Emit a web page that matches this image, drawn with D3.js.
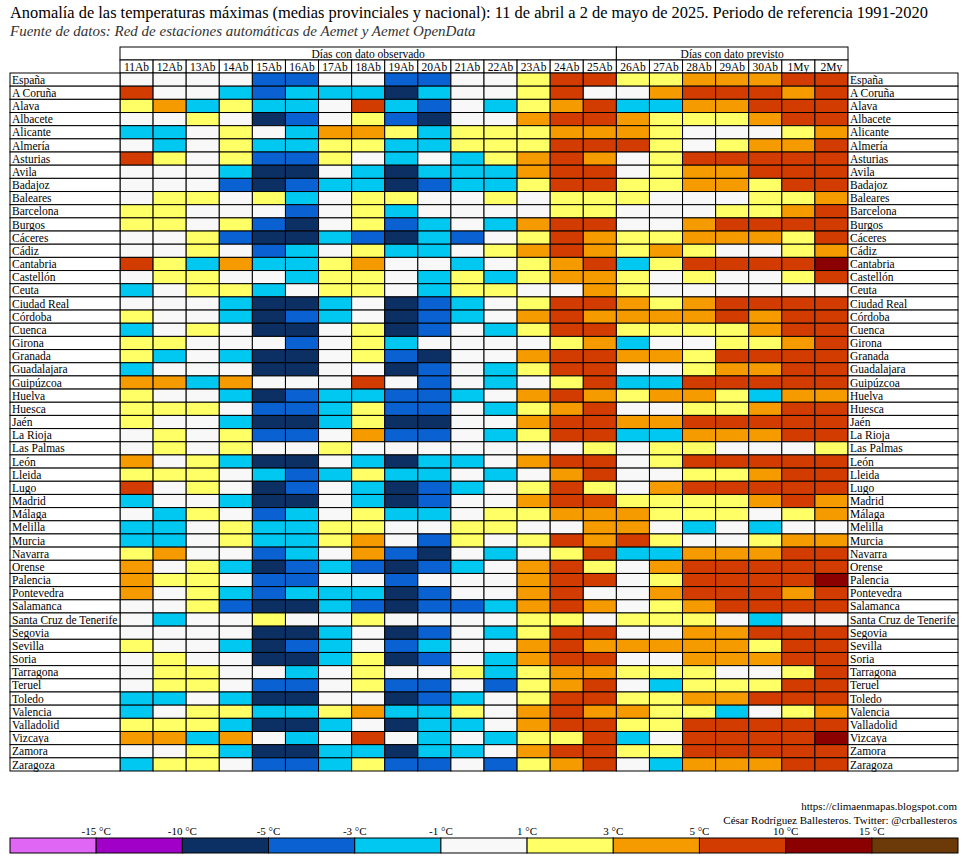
<!DOCTYPE html>
<html>
<head>
<meta charset="utf-8">
<script src="https://cdn.jsdelivr.net/npm/d3@7"></script>
<style>
  body { margin: 0; background: #fff; }
  text { font-family: "Liberation Serif", "DejaVu Serif", serif; }
</style>
</head>
<body>
<div id="chart"></div>
<script>
// days shown as columns
var dias = ['11Ab', '12Ab', '13Ab', '14Ab', '15Ab', '16Ab', '17Ab', '18Ab', '19Ab', '20Ab', '21Ab',
    '22Ab', '23Ab', '24Ab', '25Ab', '26Ab', '27Ab', '28Ab', '29Ab', '30Ab', '1My', '2My'];
var observados = 15; // first 15 days observed, rest forecast

var provincias = ['España', 'A Coruña', 'Alava', 'Albacete', 'Alicante', 'Almería', 'Asturias', 'Avila',
    'Badajoz', 'Baleares', 'Barcelona', 'Burgos', 'Cáceres', 'Cádiz', 'Cantabria', 'Castellón', 'Ceuta',
    'Ciudad Real', 'Córdoba', 'Cuenca', 'Girona', 'Granada', 'Guadalajara', 'Guipúzcoa', 'Huelva', 'Huesca',
    'Jaén', 'La Rioja', 'Las Palmas', 'León', 'Lleida', 'Lugo', 'Madrid', 'Málaga', 'Melilla', 'Murcia',
    'Navarra', 'Orense', 'Palencia', 'Pontevedra', 'Salamanca', 'Santa Cruz de Tenerife', 'Segovia',
    'Sevilla', 'Soria', 'Tarragona', 'Teruel', 'Toledo', 'Valencia', 'Valladolid', 'Vizcaya', 'Zamora',
    'Zaragoza'];

// estimated anomaly (ºC) per province and day
var anomalias = [
    [0, 0, 0, 0, -4, -4, 0, 0, -4, -4, 0, 0, 2, 7, 7, 2, 2, 4, 4, 4, 7, 7],
    [7, 0, 0, -2, -4, -2, -2, -2, -7, -2, 0, 0, 2, 7, 0, 0, 4, 7, 7, 7, 4, 7],
    [2, 4, -2, 2, -2, -2, 0, 7, -2, -4, 0, -2, 2, 4, 7, -2, -2, 4, 4, 7, 7, 7],
    [0, 0, 2, 0, -7, -4, 0, 2, -4, -7, 0, 0, 4, 7, 7, 4, 2, 2, 2, 4, 7, 7],
    [-2, -2, 0, 2, 0, -2, 4, 4, 2, -2, 2, 2, 2, 4, 4, 4, 2, 0, 0, 0, 2, 4],
    [0, -2, 0, 2, -2, -2, 2, 2, -2, -2, 2, 2, 2, 7, 7, 7, 2, 0, 2, 4, 4, 7],
    [7, 2, 0, 2, -4, -4, 2, 0, -2, 0, -2, 2, 4, 7, 4, 0, 2, 7, 7, 7, 7, 7],
    [0, 0, 0, -2, -7, -7, 0, -2, -7, -2, -2, -2, 4, 7, 7, 0, 2, 4, 4, 7, 7, 7],
    [0, 0, 0, -4, -7, -4, -2, -2, -7, -4, -2, -2, 2, 7, 7, 2, 2, 4, 4, 2, 7, 7],
    [0, 2, 2, 0, 2, -2, 0, 2, 2, 0, 0, 2, 0, 2, 2, 2, 0, 0, 0, 2, 2, 4],
    [2, 2, 0, 0, 0, -4, 0, 2, -2, 0, 0, 0, 0, 2, 2, 0, 0, 0, 2, 2, 4, 7],
    [2, 2, 0, 2, -4, -7, 0, 2, -4, -2, 0, -2, 4, 7, 7, 0, 0, 4, 7, 7, 7, 7],
    [0, 0, 2, -4, -7, -7, -2, -4, -7, -2, -4, 0, 2, 7, 4, 2, 2, 4, 4, 4, 2, 7],
    [0, 0, 2, 0, -4, -2, 0, 2, -2, -2, 0, 2, 4, 7, 4, 2, 4, 2, 0, 0, 2, 4],
    [7, 2, -2, 4, -2, -2, 2, 4, 0, 0, -2, 0, 2, 4, 7, -2, 2, 7, 7, 7, 7, 12],
    [0, 2, 2, 0, 0, -2, 2, 2, 0, -2, 2, -2, 2, 4, 4, 2, 0, 2, 0, 0, 2, 7],
    [-2, 0, 2, 2, -2, 0, 2, 2, 0, -2, 2, 2, 0, 0, 4, 2, 0, 0, 0, 0, 0, 0],
    [0, 0, 0, -2, -7, -7, -2, 0, -7, -4, -2, 0, 2, 7, 7, 4, 2, 4, 7, 7, 7, 7],
    [2, 0, 0, -2, -7, -4, -2, 0, -7, -4, -2, 0, 4, 7, 4, 4, 4, 4, 7, 4, 7, 7],
    [-2, 0, 2, 0, -7, -7, 0, 2, -7, -4, 0, -2, 2, 7, 7, 2, 2, 2, 2, 4, 7, 7],
    [2, 2, 0, 0, 0, -4, 0, 2, -2, 0, 0, 0, 0, 2, 4, -2, 0, 0, 2, 2, 4, 7],
    [2, -2, 0, -2, -7, -7, 0, 2, -4, -7, 0, 0, 4, 7, 7, 4, 4, 2, 7, 7, 7, 7],
    [-2, 0, 0, 0, -7, -7, 0, 0, -7, -4, 0, -2, 2, 7, 7, 0, 0, 2, 4, 4, 7, 7],
    [4, 4, -2, 4, 0, 0, 0, 7, 0, -4, 0, -2, 0, 2, 7, -2, -2, 7, 7, 7, 7, 7],
    [2, 0, 0, -2, -7, -4, -2, -2, -4, -4, -2, 0, 4, 7, 4, 2, 4, 4, 2, -2, 4, 4],
    [2, 2, 2, 0, -4, -4, -2, 2, -4, -4, 0, -2, 2, 4, 7, 0, 0, 2, 2, 4, 7, 7],
    [2, 0, 0, -2, -7, -7, -2, 2, -7, -7, 0, 0, 4, 7, 7, 4, 4, 7, 7, 7, 7, 7],
    [0, 2, 0, 2, -4, -4, 0, 4, -4, -4, 0, -2, 2, 7, 7, -2, -2, 4, 4, 4, 7, 7],
    [0, 2, 0, 2, 0, 0, 2, 0, 0, 0, 0, 0, 0, 0, 2, 0, 2, 2, 0, 0, 0, 2],
    [4, 0, 2, -2, -7, -7, 0, -2, -7, -2, -2, 0, 4, 7, 7, 0, 2, 7, 7, 7, 7, 7],
    [2, 2, 2, 0, -2, -4, -2, 2, -2, -2, 0, -2, 0, 4, 7, 0, 0, 2, 2, 4, 7, 7],
    [7, 0, 2, 0, -7, -4, 0, -2, -7, -4, -2, 0, 2, 7, 2, 0, 4, 7, 7, 7, 7, 7],
    [-2, 0, 0, -2, -7, -7, 0, -2, -7, -4, 0, 0, 4, 7, 7, 2, 2, 2, 2, 4, 7, 4],
    [0, -2, 2, 0, -4, -2, 0, 2, -2, -2, 0, 2, 2, 4, 4, 4, 2, 2, 2, 0, 2, 4],
    [-2, -2, 0, 2, -2, -2, 2, 2, 0, 0, 2, 2, 0, 0, 4, 4, 0, -2, 0, -2, 0, 0],
    [-2, -2, 0, 2, -2, -2, 2, 4, 0, -4, 2, 0, 2, 7, 4, 7, 2, 0, 0, 2, 4, 4],
    [2, 4, 0, 0, -4, -2, 0, 4, -4, -7, 0, -2, 0, 2, 7, -2, -2, 4, 4, 4, 7, 7],
    [4, 0, 2, -2, -7, -4, -2, -4, -7, -4, -2, 0, 4, 7, 2, 0, 4, 7, 7, 7, 7, 7],
    [4, 2, 2, 0, -4, -4, 0, 0, -4, 0, 0, 0, 4, 7, 7, 0, 2, 7, 7, 7, 7, 12],
    [4, 0, 2, -2, -4, -2, -2, -2, -7, -4, 0, 0, 4, 7, 0, 0, 4, 7, 7, 7, 4, 7],
    [0, 0, 2, -4, -7, -7, -2, -4, -7, -4, -4, -2, 4, 7, 4, 0, 2, 4, 7, 7, 7, 7],
    [0, -2, 0, 0, 2, 0, 0, 2, 0, 0, 0, 0, 2, 2, 0, 2, 2, 2, 0, -2, 0, 0],
    [0, 0, 0, 0, -7, -7, -2, 0, -7, -4, 0, -2, 2, 7, 7, 0, 0, 4, 4, 7, 7, 7],
    [2, 0, 0, -2, -7, -4, -2, 0, -4, -2, 0, 0, 4, 7, 4, 4, 4, 4, 4, 2, 7, 7],
    [0, 2, 0, 0, -7, -7, -2, 2, -7, -4, 0, -2, 4, 7, 7, 0, 0, 4, 4, 4, 7, 7],
    [0, 2, 2, 0, 0, -2, 0, 2, 0, 0, 2, -2, 2, 4, 4, 2, 2, 2, 0, 0, 2, 7],
    [0, 2, 2, 0, -4, -4, 0, 2, -4, -4, 0, -4, 2, 4, 7, 0, -2, 2, 2, 2, 7, 7],
    [-2, -2, 0, -2, -7, -7, 0, 0, -7, -4, -2, 0, 2, 7, 7, 2, 2, 4, 4, 7, 7, 7],
    [-2, 0, 2, 2, -2, -2, 2, 4, -2, -2, 2, 0, 4, 7, 4, 4, 2, 2, -2, 0, 2, 4],
    [2, 2, 2, -2, -7, -7, -2, 0, -7, -2, -2, 0, 4, 7, 7, 2, 2, 7, 7, 7, 7, 7],
    [4, 4, -2, 4, 0, -2, 0, 7, 0, -2, 0, -2, 2, 2, 7, -2, 0, 7, 7, 7, 7, 12],
    [0, 0, 2, -2, -7, -7, -2, -2, -7, -2, -2, 0, 4, 7, 7, 2, 2, 7, 7, 7, 7, 7],
    [-2, 2, 2, 0, -4, -4, -2, 2, -4, -4, 0, -4, 2, 4, 7, 0, -2, 4, 4, 4, 7, 7]
];

// legend thresholds and colours
var umbrales = [-15, -10, -5, -3, -1, 1, 3, 5, 10, 15];
var colores = ['#e066f5', '#a000c8', '#0c2f64', '#0a62d2', '#00c8f0', '#f8f8f8',
    '#ffff66', '#f59b00', '#d33c00', '#8b0000', '#6b3a08'];

var width = 967, height = 860;
var margin = {left: 10, right: 9};
var labelWidth = 110;
var gridTop = 73, gridBottom = 771;

var svg = d3.select('#chart').append('svg')
    .attr('width', width)
    .attr('height', height);

var x = d3.scaleBand().domain(dias)
    .range([margin.left + labelWidth, width - margin.right - labelWidth]);
var y = d3.scaleBand().domain(provincias).range([gridTop, gridBottom]);
var color = d3.scaleThreshold().domain(umbrales).range(colores);

/**
 * title and source
 */
svg.append('text')
    .attr('x', 10).attr('y', 18)
    .style('font-size', '16.4px')
    .text('Anomalía de las temperaturas máximas (medias provinciales y nacional): 11 de abril a 2 de mayo de 2025. Periodo de referencia 1991-2020');

svg.append('text')
    .attr('x', 10).attr('y', 36)
    .style('font-size', '15px')
    .style('font-style', 'italic')
    .attr('fill', '#333')
    .text('Fuente de datos: Red de estaciones automáticas de Aemet y Aemet OpenData');

/**
 * group headers
 */
var grupos = [
    {name: 'Días con dato observado', from: dias[0], to: dias[observados - 1]},
    {name: 'Días con dato previsto', from: dias[observados], to: dias[dias.length - 1]}
];

var head = svg.append('g');
grupos.forEach(function (g) {
    var x0 = x(g.from), x1 = x(g.to) + x.bandwidth();
    head.append('rect')
        .attr('x', x0).attr('y', 47)
        .attr('width', x1 - x0).attr('height', 13)
        .attr('fill', '#fff').attr('stroke', '#000');
    head.append('text')
        .attr('x', (x0 + x1) / 2).attr('y', 57.5)
        .attr('text-anchor', 'middle')
        .style('font-size', '11.5px')
        .text(g.name);
});

head.selectAll('.dia')
    .data(dias)
    .enter().append('g')
    .attr('class', 'dia')
    .each(function (d) {
        var g = d3.select(this);
        g.append('rect')
            .attr('x', x(d)).attr('y', 60)
            .attr('width', x.bandwidth()).attr('height', 13)
            .attr('fill', '#fff').attr('stroke', '#000');
        g.append('text')
            .attr('x', x(d) + x.bandwidth() / 2).attr('y', 70.5)
            .attr('text-anchor', 'middle')
            .style('font-size', '11.5px')
            .text(d);
    });

/**
 * cells
 */
var cells = [];
anomalias.forEach(function (fila, i) {
    fila.forEach(function (v, j) {
        cells.push({prov: provincias[i], dia: dias[j], value: v});
    });
});

svg.append('g').selectAll('rect')
    .data(cells)
    .enter().append('rect')
    .attr('x', function (d) { return x(d.dia); })
    .attr('y', function (d) { return y(d.prov); })
    .attr('width', x.bandwidth())
    .attr('height', y.bandwidth())
    .attr('fill', function (d) { return color(d.value); })
    .attr('stroke', '#000')
    .attr('stroke-width', 1);

/**
 * row labels on both sides
 */
[margin.left, width - margin.right - labelWidth].forEach(function (lx) {
    var lab = svg.append('g').selectAll('g')
        .data(provincias)
        .enter().append('g');
    lab.append('rect')
        .attr('x', lx).attr('y', function (d) { return y(d); })
        .attr('width', labelWidth).attr('height', y.bandwidth())
        .attr('fill', '#fff').attr('stroke', '#000');
    lab.append('text')
        .attr('x', lx + 2)
        .attr('y', function (d) { return y(d) + y.bandwidth() - 2.5; })
        .style('font-size', '11.5px')
        .text(function (d) { return d; });
});

/**
 * credits
 */
svg.append('text')
    .attr('x', 957).attr('y', 810)
    .attr('text-anchor', 'end')
    .style('font-size', '11px')
    .text('https://climaenmapas.blogspot.com');
svg.append('text')
    .attr('x', 957).attr('y', 824)
    .attr('text-anchor', 'end')
    .style('font-size', '11px')
    .text('César Rodríguez Ballesteros. Twitter: @crballesteros');

/**
 * legend
 */
var lx = d3.scaleBand().domain(d3.range(colores.length)).range([10, 958]);

svg.append('g').selectAll('rect')
    .data(colores)
    .enter().append('rect')
    .attr('x', function (d, i) { return lx(i); })
    .attr('y', 838)
    .attr('width', lx.bandwidth())
    .attr('height', 15)
    .attr('fill', function (d) { return d; })
    .attr('stroke', '#000');

svg.append('g').selectAll('text')
    .data(umbrales)
    .enter().append('text')
    .attr('x', function (d, i) { return lx(i + 1); })
    .attr('y', 835)
    .attr('text-anchor', 'middle')
    .style('font-size', '11px')
    .text(function (d) { return d + ' °C'; });
</script>
</body>
</html>
